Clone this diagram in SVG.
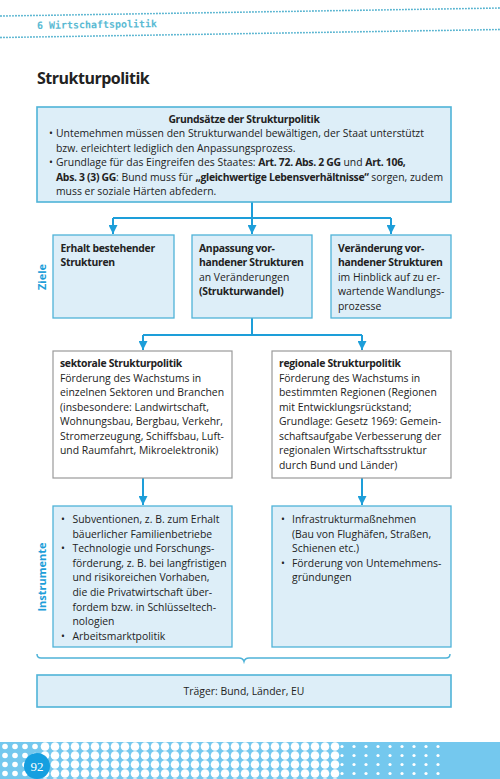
<svg xmlns="http://www.w3.org/2000/svg" width="500" height="779" viewBox="0 0 500 779">
<style>
text{font-family:"Open Sans","Noto Sans","Liberation Sans",sans-serif;font-size:10.4px;fill:#222}
.b{font-weight:bold;letter-spacing:-0.3px}
.c{text-anchor:middle}
.blue{fill:#ddeef8;stroke:#4fb3d8;stroke-width:1.3}
.white{fill:#fff;stroke:#9a9a9a;stroke-width:1.2}
.ln{fill:none;stroke:#1d9ed9;stroke-width:2}
.lab{font-weight:bold;fill:#1d9ed9;font-size:11px;text-anchor:middle}
.hd{fill:none;stroke:#3fa9c9;stroke-width:1.8;stroke-linecap:round;stroke-dasharray:0 3}
</style>
<defs>
<marker id="ar" viewBox="0 0 10 10" refX="10" refY="5" markerWidth="4.5" markerHeight="4.5" orient="auto" markerUnits="strokeWidth">
<path d="M0,0 L10,5 L0,10 z" fill="#1d9ed9"/>
</marker>
<pattern id="pBig" width="10" height="9" patternUnits="userSpaceOnUse" x="0" y="742">
<circle cx="5" cy="4.5" r="4.3" fill="#fff"/>
</pattern>
<pattern id="pMed" width="10" height="9" patternUnits="userSpaceOnUse" x="0" y="742">
<circle cx="5" cy="4.5" r="2.8" fill="#fff"/>
</pattern>
<pattern id="pSm" width="12" height="9" patternUnits="userSpaceOnUse" x="0" y="742">
<circle cx="6" cy="4.5" r="1.6" fill="#fff"/>
</pattern>
</defs>

<g id="header">
<line class="hd" x1="1" y1="16" x2="500" y2="8"/>
<line class="hd" x1="1" y1="37.5" x2="500" y2="29.5"/>
<text x="37" y="29" style="font-family:'DejaVu Sans Mono','Liberation Mono',monospace;font-size:10px;fill:#5bbad3;font-weight:bold" textLength="120" transform="rotate(-0.9 37 29)">6 Wirtschaftspolitik</text>
</g>

<g id="title">
<text x="37" y="84" style="font-size:16px;font-weight:bold;letter-spacing:-0.5px">Strukturpolitik</text>
</g>

<g id="connectors">
<path class="ln" d="M252,202 V218 M113,218 H391"/>
<path class="ln" d="M113,218 V234" marker-end="url(#ar)"/>
<path class="ln" d="M252,218 V234" marker-end="url(#ar)"/>
<path class="ln" d="M391,218 V234" marker-end="url(#ar)"/>
<path class="ln" d="M252,318 V335 M143,335 H362"/>
<path class="ln" d="M143,335 V350" marker-end="url(#ar)"/>
<path class="ln" d="M362,335 V350" marker-end="url(#ar)"/>
<path class="ln" d="M143,478 V505" marker-end="url(#ar)"/>
<path class="ln" d="M362,478 V505" marker-end="url(#ar)"/>
<path d="M37,654 Q37,658 41,658 H239 Q243,658 244,661.5 Q245,658 249,658 H446 Q450,658 450,654" fill="none" stroke="#4fb3d8" stroke-width="1.5"/>
</g>

<g id="grundsaetze">
<rect class="blue" x="37" y="107" width="414" height="95" style="stroke-width:1.6"/>
<text x="244" y="122.5" class="b c">Grundsätze der Strukturpolitik</text>
<text x="49" y="137">•</text>
<text x="56" y="137">Untemehmen müssen den Strukturwandel bewältigen, der Staat unterstützt</text>
<text x="56" y="151.5">bzw. erleichtert lediglich den Anpassungsprozess.</text>
<text x="49" y="166">•</text>
<text x="56" y="166">Grundlage für das Eingreifen des Staates: <tspan class="b">Art. 72. Abs. 2 GG</tspan> und <tspan class="b">Art. 106,</tspan></text>
<text x="56" y="180.5"><tspan class="b">Abs. 3 (3) GG</tspan>: Bund muss für <tspan class="b">„gleichwertige Lebensverhältnisse“</tspan> sorgen, zudem</text>
<text x="56" y="195">muss er soziale Härten abfedern.</text>
</g>

<g id="ziele-label">
<text class="lab" transform="translate(45.5 277) rotate(-90)">Ziele</text>
</g>

<g id="ziel1">
<rect class="blue" x="53" y="235" width="121" height="83"/>
<text x="60.5" y="251.5" class="b">Erhalt bestehender</text>
<text x="60.5" y="266" class="b">Strukturen</text>
</g>

<g id="ziel2">
<rect class="blue" x="192" y="235" width="120" height="83"/>
<text x="199" y="251.5" class="b">Anpassung vor-</text>
<text x="199" y="266" class="b">handener Strukturen</text>
<text x="199" y="280.5">an Veränderungen</text>
<text x="199" y="295" class="b">(Strukturwandel)</text>
</g>

<g id="ziel3">
<rect class="blue" x="331" y="235" width="120" height="83"/>
<text x="338" y="251.5" class="b">Veränderung vor-</text>
<text x="338" y="266" class="b">handener Strukturen</text>
<text x="338" y="280.5">im Hinblick auf zu er-</text>
<text x="338" y="295">wartende Wandlungs-</text>
<text x="338" y="309.5">prozesse</text>
</g>

<g id="sektoral">
<rect class="white" x="53" y="351" width="179" height="127"/>
<text x="60" y="367" class="b">sektorale Strukturpolitik</text>
<text x="60" y="381.5">Förderung des Wachstums in</text>
<text x="60" y="396">einzelnen Sektoren und Branchen</text>
<text x="60" y="410.5">(insbesondere: Landwirtschaft,</text>
<text x="60" y="425">Wohnungsbau, Bergbau, Verkehr,</text>
<text x="60" y="439.5">Stromerzeugung, Schiffsbau, Luft-</text>
<text x="60" y="454">und Raumfahrt, Mikroelektronik)</text>
</g>

<g id="regional">
<rect class="white" x="272" y="351" width="179" height="127"/>
<text x="279" y="367" class="b">regionale Strukturpolitik</text>
<text x="279" y="381.5">Förderung des Wachstums in</text>
<text x="279" y="396">bestimmten Regionen (Regionen</text>
<text x="279" y="410.5">mit Entwicklungsrückstand;</text>
<text x="279" y="425">Grundlage: Gesetz 1969: Gemein-</text>
<text x="279" y="439.5">schaftsaufgabe Verbesserung der</text>
<text x="279" y="454">regionalen Wirtschaftsstruktur</text>
<text x="279" y="468.5">durch Bund und Länder)</text>
</g>

<g id="instrumente-label">
<text class="lab" transform="translate(45.5 577) rotate(-90)">Instrumente</text>
</g>

<g id="instr-sektoral">
<rect class="blue" x="53" y="506" width="179" height="141"/>
<text x="61" y="523">•</text>
<text x="72.5" y="523">Subventionen, z. B. zum Erhalt</text>
<text x="72.5" y="537.6">bäuerlicher Familienbetriebe</text>
<text x="61" y="552.2">•</text>
<text x="72.5" y="552.2">Technologie und Forschungs-</text>
<text x="72.5" y="566.8">förderung, z. B. bei langfristigen</text>
<text x="72.5" y="581.4">und risikoreichen Vorhaben,</text>
<text x="72.5" y="596">die die Privatwirtschaft über-</text>
<text x="72.5" y="610.6">fordem bzw. in Schlüsseltech-</text>
<text x="72.5" y="625.2">nologien</text>
<text x="61" y="639.8">•</text>
<text x="72.5" y="639.8">Arbeitsmarktpolitik</text>
</g>

<g id="instr-regional">
<rect class="blue" x="272" y="506" width="179" height="141"/>
<text x="281" y="523">•</text>
<text x="292" y="523">Infrastrukturmaßnehmen</text>
<text x="292" y="537.6">(Bau von Flughäfen, Straßen,</text>
<text x="292" y="552.2">Schienen etc.)</text>
<text x="281" y="566.8">•</text>
<text x="292" y="566.8">Förderung von Untemehmens-</text>
<text x="292" y="581.4">gründungen</text>
</g>

<g id="traeger">
<rect class="blue" x="37" y="675" width="414" height="32" style="stroke-width:1.6"/>
<text x="244" y="695" class="c">Träger: Bund, Länder, EU</text>
</g>

<g id="footer">
<rect x="0" y="742" width="500" height="37" fill="#74c8ee"/>
<rect x="0" y="742" width="40" height="37" fill="url(#pMed)"/>
<rect x="40" y="742" width="300" height="37" fill="url(#pBig)"/>
<rect x="340" y="742" width="100" height="37" fill="url(#pSm)"/>
<circle cx="37" cy="766" r="13" fill="#159fe0"/>
<text x="37" y="770.5" class="c" style="font-family:'Liberation Serif',serif;font-size:13px;fill:#fff">92</text>
</g>
</svg>
